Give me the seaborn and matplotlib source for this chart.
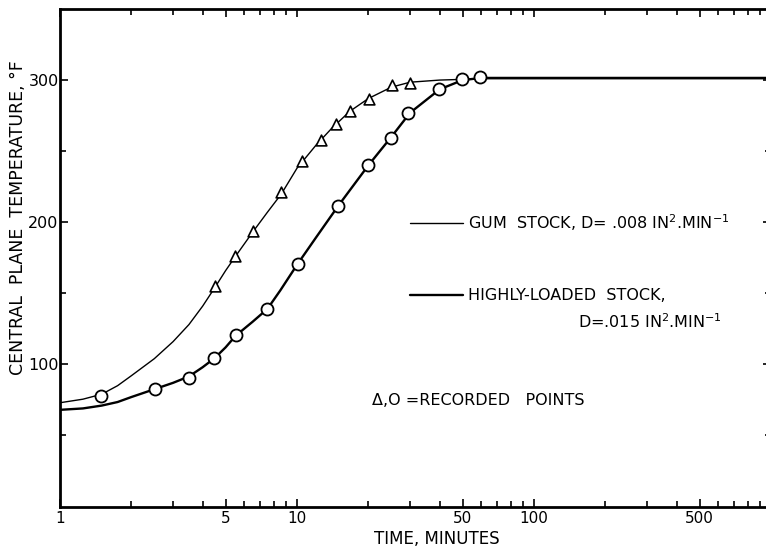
import numpy as np
import pandas as pd
import seaborn as sns
import matplotlib
matplotlib.use("Agg")
import matplotlib.pyplot as plt
from matplotlib.ticker import FixedLocator, NullFormatter

# fitted curves (time in minutes, temperature in F)
gum_t = [1, 1.25, 1.5, 1.75, 2, 2.5, 3, 3.5, 4, 4.5, 5, 5.5, 6.5, 7.5, 8.6,
         10, 12, 14, 16.7, 20, 25, 30, 40, 50, 60, 100, 1000]
gum_T = [73, 75.5, 79, 85, 92, 104, 116, 128, 141, 154, 166, 176, 193, 207, 220,
         238, 254, 266, 278, 287, 295, 298.5, 300, 300.5, 301, 301, 301]

hl_t = [1, 1.25, 1.5, 1.75, 2, 2.5, 3, 3.5, 4, 4.5, 5, 5.5, 6.5, 7.5, 8.5,
        10, 12, 15, 20, 25, 30, 40, 50, 60, 70, 100, 1000]
hl_T = [68, 69, 71, 73.5, 77, 82.5, 87, 91.5, 98, 104.5, 112, 120, 130, 139, 152,
        170, 189, 212, 240, 260, 277, 293.5, 300, 301.5, 301.5, 301.5, 301.5]

# recorded points
tri_t = [4.5, 5.5, 6.5, 8.6, 10.5, 12.6, 14.6, 16.7, 20.2, 25.1, 29.9]
tri_T = [155, 176, 193.5, 221, 243, 258, 269, 278, 287, 296.5, 298]

circ_t = [1.49, 2.52, 3.51, 4.47, 5.53, 7.44, 10.1, 14.9, 20.0, 24.9, 29.5,
          39.6, 49.6, 59.3]
circ_T = [77.5, 82.7, 90.7, 104.4, 120.5, 139, 170.7, 211.6, 240.4, 259.5, 277,
          293.5, 300.5, 302]

x_major = [1, 5, 10, 50, 100, 500]
y_major = [100, 200, 300]

sns.set_style("ticks", {"axes.edgecolor": "black", "xtick.color": "black",
                        "ytick.color": "black", "text.color": "black",
                        "axes.labelcolor": "black"})
plt.rcParams["font.family"] = ["DejaVu Sans"]

fig = plt.figure(figsize=(7.66, 5.48), dpi=100)
ax = fig.add_axes([60 / 766, 1 - 506.5 / 548, 711 / 766, 497.5 / 548])

gum = pd.DataFrame({"t": gum_t, "T": gum_T})
hl = pd.DataFrame({"t": hl_t, "T": hl_T})
sns.lineplot(data=gum, x="t", y="T", ax=ax, color="black", lw=1.0,
             estimator=None, sort=False)
sns.lineplot(data=hl, x="t", y="T", ax=ax, color="black", lw=1.7,
             estimator=None, sort=False)

tri = pd.DataFrame({"t": tri_t, "T": tri_T})
circ = pd.DataFrame({"t": circ_t, "T": circ_T})
sns.scatterplot(data=tri, x="t", y="T", ax=ax, marker="^", s=60,
                facecolor="white", edgecolor="black", linewidth=1.2, zorder=3)
sns.scatterplot(data=circ, x="t", y="T", ax=ax, marker="o", s=75,
                facecolor="white", edgecolor="black", linewidth=1.3, zorder=3)

ax.set_xscale("log")
ax.set_xlim(1, 1000)
ax.set_ylim(0, 350)

minor_x = [m * 10 ** k for k in range(3) for m in range(2, 10)]
ax.xaxis.set_major_locator(FixedLocator(x_major))
ax.xaxis.set_minor_locator(FixedLocator([v for v in minor_x if v not in x_major]))
ax.set_xticklabels([str(v) for v in x_major])
ax.xaxis.set_minor_formatter(NullFormatter())
ax.yaxis.set_major_locator(FixedLocator(y_major))
ax.yaxis.set_minor_locator(FixedLocator([50, 150, 250]))
ax.set_yticklabels([str(v) for v in y_major])

ax.tick_params(which="both", direction="in", top=True, right=True,
               labelsize=11.5, width=1.2, colors="black")
ax.tick_params(which="major", length=6)
ax.tick_params(which="minor", length=4)
ax.tick_params(axis="x", which="major", pad=3, labelsize=11)
ax.tick_params(axis="y", which="major", pad=1)
for s in ["left", "bottom", "top"]:
    ax.spines[s].set_linewidth(2)
    ax.spines[s].set_color("black")

ax.set_xlabel("TIME, MINUTES", fontsize=12, va="center")
ax.xaxis.set_label_coords((437 - 60) / 711, -(538.5 - 506.5) / 497.5)
ax.set_ylabel("CENTRAL  PLANE  TEMPERATURE, °F", fontsize=12.5, va="center")
ax.yaxis.set_label_coords(-(60 - 18) / 711, (506.5 - 218) / 497.5)

# key drawn inside the plot
fs = 11.5
ax.plot([0.492, 0.567], [0.570, 0.570], transform=ax.transAxes,
        color="black", lw=1.0)
ax.text(0.574, 0.570, "GUM  STOCK, D= .008 IN$^2$.MIN$^{-1}$",
        transform=ax.transAxes, fontsize=fs, va="center", ha="left")
ax.plot([0.492, 0.567], [0.425, 0.425], transform=ax.transAxes,
        color="black", lw=1.7)
ax.text(0.574, 0.425, "HIGHLY-LOADED  STOCK,",
        transform=ax.transAxes, fontsize=fs, va="center", ha="left")
ax.text(0.729, 0.371, "D=.015 IN$^2$.MIN$^{-1}$",
        transform=ax.transAxes, fontsize=fs, va="center", ha="left")
ax.text(0.439, 0.214, "Δ,O =RECORDED   POINTS",
        transform=ax.transAxes, fontsize=fs, va="center", ha="left")

fig.savefig("out.png", dpi=100)
